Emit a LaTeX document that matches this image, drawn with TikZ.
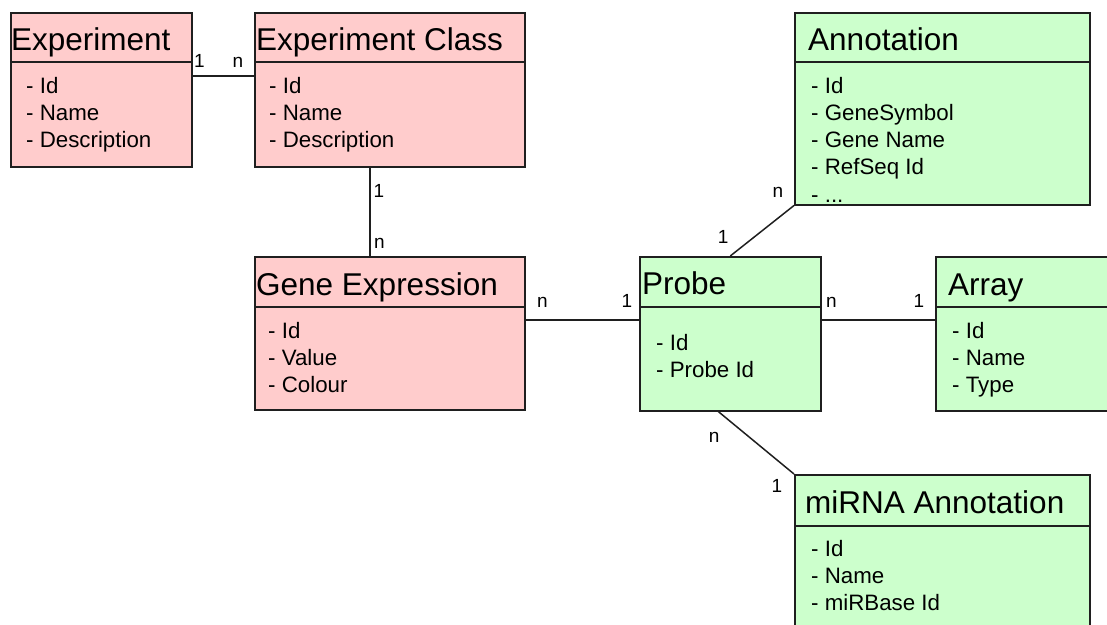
\documentclass[tikz,border=0pt]{standalone}
\usepackage{fontspec}
\setmainfont{Liberation Sans}
\usetikzlibrary{positioning}
\definecolor{exprpink}{HTML}{FFCCCC}
\definecolor{probegreen}{HTML}{CCFFCC}

\begin{document}
\begin{tikzpicture}[
  x=1pt, y=-1pt,
  line/.style={line width=1.5pt, draw=black!88},
  entity/.style={line, inner sep=0pt, anchor=north west},
  exprbox/.style={entity, fill=exprpink},
  probebox/.style={entity, fill=probegreen},
  title/.style={anchor=base west, inner sep=0pt, font=\fontsize{31.5pt}{37pt}\selectfont},
  attrs/.style={anchor=base west, inner sep=0pt, align=left, font=\fontsize{22.3pt}{27.3pt}\selectfont},
  mult/.style={anchor=base, inner sep=0pt, font=\fontsize{19pt}{21pt}\selectfont}
]
\useasboundingbox (0,0) rectangle (1107,624);
\clip (0,0) rectangle (1107,624);

% experiment side (attrs anchored at the baseline of their last line)
\node[exprbox, minimum width=181pt, minimum height=154pt] (exp) at (10,12) {};
\draw[line] ([shift={(0,50)}]exp.north west) -- ([shift={(0,50)}]exp.north east);
\node[title] at ([shift={(1,38)}]exp.north west) {Experiment};
\node[attrs] at ([shift={(16,135.6)}]exp.north west) {- Id\\- Name\\- Description};

\node[exprbox, minimum width=270pt, minimum height=154pt] (ecl) at (254,12) {};
\draw[line] ([shift={(0,50)}]ecl.north west) -- ([shift={(0,50)}]ecl.north east);
\node[title] at ([shift={(2,38)}]ecl.north west) {Experiment Class};
\node[attrs] at ([shift={(15,135.6)}]ecl.north west) {- Id\\- Name\\- Description};

\node[exprbox, minimum width=270pt, minimum height=153pt] (ge) at (254,256) {};
\draw[line] ([shift={(0,51)}]ge.north west) -- ([shift={(0,51)}]ge.north east);
\node[title] at ([shift={(2,39)}]ge.north west) {Gene Expression};
\node[attrs] at ([shift={(14,136.6)}]ge.north west) {- Id\\- Value\\- Colour};

% probe side
\node[probebox, minimum width=181pt, minimum height=154pt] (probe) at (639,256) {};
\draw[line] ([shift={(0,51)}]probe.north west) -- ([shift={(0,51)}]probe.north east);
\node[title] at ([shift={(3,38)}]probe.north west) {Probe};
\node[attrs] at ([shift={(17,121.3)}]probe.north west) {- Id\\- Probe Id};

\node[probebox, minimum width=200pt, minimum height=154pt] (array) at (935,256) {};
\draw[line] ([shift={(0,51)}]array.north west) -- ([shift={(0,51)}]array.north east);
\node[title] at ([shift={(13,39)}]array.north west) {Array};
\node[attrs] at ([shift={(17,136.6)}]array.north west) {- Id\\- Name\\- Type};

\node[probebox, minimum width=295pt, minimum height=192pt] (annot) at (794,12) {};
\draw[line] ([shift={(0,50)}]annot.north west) -- ([shift={(0,50)}]annot.north east);
\node[title] at ([shift={(14,38)}]annot.north west) {Annotation};
\node[attrs] at ([shift={(17,190.2)}]annot.north west) {- Id\\- GeneSymbol\\- Gene Name\\- RefSeq Id\\- ...};

\node[probebox, minimum width=295pt, minimum height=200pt] (mirna) at (794,474) {};
\draw[line] ([shift={(0,52)}]mirna.north west) -- ([shift={(0,52)}]mirna.north east);
\node[title] at ([shift={(11,39)}]mirna.north west) {miRNA Annotation};
\node[attrs] at ([shift={(17,136.6)}]mirna.north west) {- Id\\- Name\\- miRBase Id};

% relations
\draw[line] ([shift={(0,64)}]exp.north east) -- ([shift={(0,64)}]ecl.north west)
  node[mult, pos=0, shift={(7,-8.5)}] {1}
  node[mult, pos=1, shift={(-16,-8.5)}] {n};
\draw[line] ([shift={(116,0)}]ecl.south west) -- ([shift={(116,0)}]ge.north west)
  node[mult, pos=0, shift={(9,30)}] {1}
  node[mult, pos=1, shift={(9.5,-8)}] {n};
\draw[line] ([shift={(0,64)}]ge.north east) -- ([shift={(0,64)}]probe.north west)
  node[mult, pos=0, shift={(17,-13)}] {n}
  node[mult, pos=1, shift={(-12,-13)}] {1};
\draw[line] ([shift={(0,64)}]probe.north east) -- ([shift={(0,64)}]array.north west)
  node[mult, pos=0, shift={(10,-13)}] {n}
  node[mult, pos=1, shift={(-16,-13)}] {1};
\draw[line] (probe.north) -- (annot.south west)
  node[mult, pos=0, shift={(-7,-13)}] {1}
  node[mult, pos=1, shift={(-16,-8)}] {n};
\draw[line] ([shift={(-12,0)}]probe.south) -- (mirna.north west)
  node[mult, pos=0, shift={(-4,31)}] {n}
  node[mult, pos=1, shift={(-17,18)}] {1};

\end{tikzpicture}
\end{document}
